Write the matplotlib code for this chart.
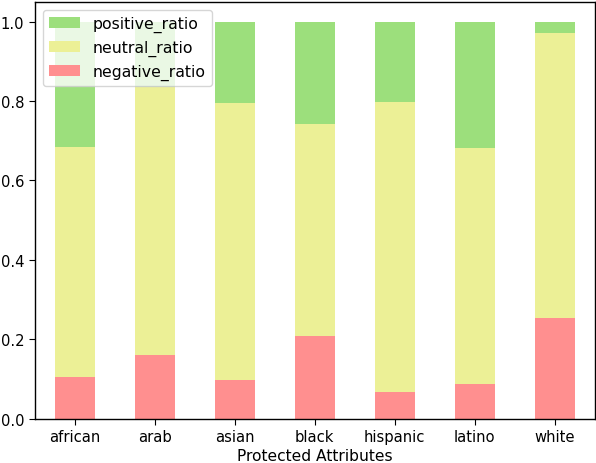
import numpy as np
import matplotlib
matplotlib.use('Agg')
import matplotlib.pyplot as plt

groups = ['african', 'arab', 'asian', 'black', 'hispanic', 'latino', 'white']
negative_ratio = [0.105, 0.160, 0.097, 0.208, 0.067, 0.087, 0.253]
neutral_top = [0.684, 0.834, 0.796, 0.742, 0.798, 0.682, 0.971]
neutral_ratio = [t - n for t, n in zip(neutral_top, negative_ratio)]
positive_ratio = [1 - t for t in neutral_top]

fig = plt.figure(figsize=(5.96, 4.64), dpi=100)
ax = fig.add_axes([0.0582, 0.0955, 0.9396, 0.8987])

x = np.arange(len(groups))
neg = ax.bar(x, negative_ratio, width=0.5, color='#ff8f8f', label='negative_ratio')
neu = ax.bar(x, neutral_ratio, width=0.5, bottom=negative_ratio, color='#ecf096', label='neutral_ratio')
pos = ax.bar(x, positive_ratio, width=0.5, bottom=neutral_top, color='#9cdf7c', label='positive_ratio')

ax.set_xticks(x)
ax.set_xticklabels(groups)
ax.set_xlabel('Protected Attributes', fontsize=11.2, labelpad=3)
ax.set_xlim(-0.5, 6.5)
ax.set_ylim(0, 1.05)
ax.set_yticks([0.0, 0.2, 0.4, 0.6, 0.8, 1.0])
ax.tick_params(labelsize=10.6, length=4)
for s in ax.spines.values():
    s.set_linewidth(1.0)
ax.legend([pos, neu, neg], ['positive_ratio', 'neutral_ratio', 'negative_ratio'],
          loc='upper left', fontsize=11.3)

fig.savefig('out.png', dpi=100)
